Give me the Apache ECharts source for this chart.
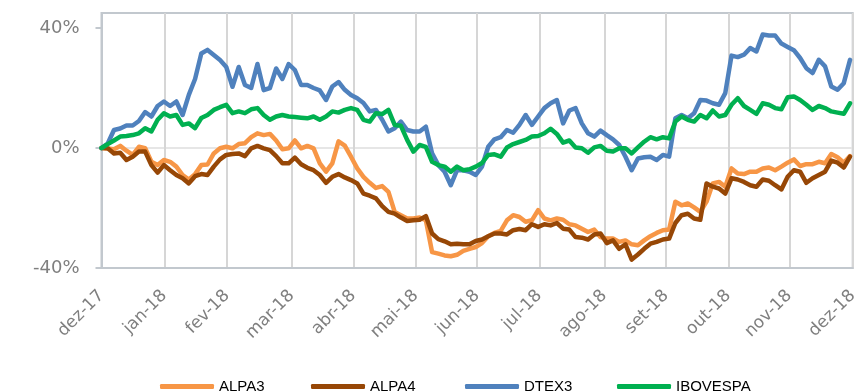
<!DOCTYPE html>
<html>
<head>
<meta charset="utf-8">
<script src="https://cdn.jsdelivr.net/npm/echarts@6/dist/echarts.min.js"></script>
<style>
  html, body { margin: 0; padding: 0; background: #ffffff; }
  #chart { width: 856px; height: 391px; }
</style>
</head>
<body>
<div id="chart"></div>
<script>
// Cumulative return (%) sampled at evenly spaced points, dez-17 .. dez-18
const seriesNames = ['ALPA3', 'ALPA4', 'DTEX3', 'IBOVESPA'];

const alpa3 = [
  0, -0.2, -0.4, 0.7, -0.9, -2.3, 0.4, -0.1, -4.6, -5.7,
  -4, -4.6, -6.2, -9, -10.5, -8.7, -5.7, -5.5, -1.8, -0.1,
  0.4, -0.1, 1.3, 1.6, 3.6, 4.9, 4.3, 4.7, 2.5, -0.4,
  -0.1, 2.5, -0.1, 0.7, -0.1, -5.1, -7.9, -5.1, 2.2, 0.8,
  -2.9, -6.8, -9.6, -11.6, -13.3, -12.7, -14.6, -21.3, -22.4, -23.5,
  -23.5, -23.2, -24.1, -34.7, -35.2, -35.8, -36.1, -35.6, -34.3, -33.6,
  -33, -31.7, -29.4, -28.3, -27.6, -24.1, -22.4, -23, -24.6, -24.1,
  -20.7, -23.5, -24.1, -23.5, -23.9, -25.4, -25.8, -26.9, -28, -27.2,
  -29.7, -30.2, -30.2, -31.3, -30.8, -32.1, -32.4, -30.8, -29.4, -28.3,
  -27.4, -27.2, -17.9, -19.1, -18.5, -19.8, -21.3, -17.9, -11.8, -11.3,
  -12.9, -6.8, -8.5, -8.7, -7.9, -7.9, -6.8, -6.5, -7.4, -6.2,
  -4.9, -3.8, -6, -5.4, -5.4, -4.6, -5.1, -2, -3.1, -4.9,
  -2.7
];

const alpa4 = [
  0, -0.1, -1.8, -1.6, -4, -2.9, -1.2, -1.2, -5.7, -8.2,
  -5.7, -7.4, -9, -10.1, -11.8, -9.4, -8.7, -9, -6.2, -3.8,
  -2.3, -2, -1.8, -2.7, -0.1, 0.7, -0.1, -0.7, -2.7, -5.1,
  -5.1, -3.2, -5.4, -6.6, -7.4, -9, -11.6, -9.6, -8.7, -9.8,
  -10.7, -11.8, -15.2, -15.9, -16.8, -19.4, -21.3, -21.9, -23.2, -24.3,
  -24.1, -23.9, -22.7, -28.5, -30.4, -31.1, -32.1, -31.9, -32.1, -32.1,
  -31, -30.5, -29.4, -28.5, -28.5, -28.8, -27.4, -27, -27.4, -25.4,
  -26.3, -25.4, -25.8, -25, -26.9, -27.2, -29.7, -29.9, -30.5, -28.8,
  -28.5, -31.7, -30.8, -33.6, -32.1, -37.2, -35.5, -33.6, -31.9, -31.3,
  -30.5, -30.2, -25, -22.4, -21.9, -23.5, -23.9, -11.8, -12.9, -13.5,
  -15.2, -10.1, -10.5, -11.3, -12.4, -12.9, -10.5, -10.9, -12.4, -13.8,
  -9.6, -7.4, -7.9, -11.6, -10.1, -9, -7.9, -4.2, -4.9, -6.5,
  -2.9
];

const dtex3 = [
  0, 1.5, 6, 6.5, 7.5, 7.5, 9, 12, 10.5, 14,
  15.5, 14, 15.5, 11, 17.7, 23, 31.5, 32.7, 31, 29.3,
  27, 20.4, 27, 21, 20, 28, 19.3, 20, 26.5, 23,
  28, 26, 21, 21, 20, 19.2, 16, 20.5, 22, 19.4,
  17.7, 16.6, 15, 12.2, 12.7, 9.4, 5.5, 6.6, 8.8, 6,
  5.5, 5.5, 7.1, -1.8, -5.7, -7.9, -12.4, -7.4, -7.4, -7.9,
  -9, -6.2, 0.4, 2.9, 3.6, 6, 5.1, 7.7, 11, 7.7,
  10.5, 13.3, 14.9, 16, 8.2, 12.5, 13.3, 8.2, 4.9, 3.8,
  5.8, 4.3, 2.9, 1, -2.9, -7.4, -3.5, -3.1, -2.9, -4,
  -2.3, -2.9, 9.9, 11, 9.9, 11.6, 16, 15.8, 14.9, 14.4,
  18.3, 30.8, 30.3, 31.1, 33.3, 32.2, 37.8, 37.5, 37.5, 34.8,
  33.7, 32.6, 30, 26.6, 25, 29.4, 27.2, 20.5, 19.4, 21.6,
  29.4
];

const ibovespa = [
  0, 1.3, 2.5, 3.8, 4, 4.3, 4.9, 6.6, 5.5, 9.4,
  11.6, 10.5, 11, 7.7, 8.2, 6.6, 10, 11, 12.7, 13.6,
  14.4, 11.6, 12.2, 11.6, 12.9, 13.3, 11, 9.4, 10.5, 11,
  10.5, 10.3, 10.1, 9.9, 10.5, 9.4, 10.5, 12.2, 11.8, 12.7,
  13.3, 12.7, 9.4, 8.8, 11.6, 11.3, 12.7, 7.7, 7.4, 2.7,
  -1.2, 1, 0.4, -4.6, -5.7, -6.2, -7.9, -6.2, -7.4, -7.1,
  -6.2, -5, -2.3, -2.1, -2.9, 0.2, 1.3, 2, 2.7, 3.8,
  4, 4.9, 6.4, 4.7, 1.8, 2.5, 0.2, -0.1, -1.6, 0.2,
  0.7, -0.9, -1.2, -0.1, -0.1, -1.8, 0.2, 2.1, 3.6, 2.9,
  3.6, 3.2, 8.8, 10.5, 9.4, 8.8, 11, 9.9, 12.5, 10.5,
  11, 14.4, 16.6, 14, 12.7, 11.4, 14.9, 14.4, 13.3, 12.9,
  16.9, 17.2, 16, 14.4, 12.7, 14, 13.3, 12.2, 11.8, 11.4,
  14.9
];

// Month labels and where each one falls along the sample index
const monthLabels = ['dez-17', 'jan-18', 'fev-18', 'mar-18', 'abr-18', 'mai-18', 'jun-18',
                     'jul-18', 'ago-18', 'set-18', 'out-18', 'nov-18', 'dez-18'];
const monthPos = [0, 10.07, 20.12, 30.49, 40.37, 50.37, 60.2,
                  70.19, 80.61, 90.5, 100.48, 110.26, 120.43];

const yTicks = [-40, 0, 40];

const colors = ['#F79646', '#974706', '#4F81BD', '#00B050'];
const seriesValues = [alpa3, alpa4, dtex3, ibovespa];
const legendLeft = [155, 306, 460, 612];

const axisGrey = '#C2C8CE';
const gridGrey = '#D6D6D6';
const zeroGrey = '#E6E6E6';
const labelFont = 'DejaVu Sans';

const chart = echarts.init(document.getElementById('chart'));

const lineSeries = seriesNames.map((name, k) => ({
  name: name,
  type: 'line',
  data: seriesValues[k].map((v, i) => [i, v]),
  showSymbol: false,
  lineStyle: { width: 4.5, color: colors[k], cap: 'round', join: 'round' },
  itemStyle: { color: colors[k] }
}));

chart.setOption({
  animation: false,
  color: colors,
  grid: {
    left: 101.5,
    right: 3.3,
    top: 13,
    bottom: 123,
    show: true,
    borderColor: axisGrey,
    borderWidth: 2,
    outerBoundsMode: 'none'
  },
  legend: seriesNames.map((name, k) => ({
    data: [name],
    left: legendLeft[k],
    top: 374,
    itemWidth: 54,
    itemHeight: 5,
    itemGap: 0,
    icon: 'roundRect',
    selectedMode: false,
    textStyle: { fontFamily: 'Liberation Sans', fontSize: 15, color: '#000000' }
  })),
  xAxis: {
    type: 'value',
    min: 0,
    max: monthPos[monthPos.length - 1],
    axisLine: { show: true, onZero: false, lineStyle: { color: axisGrey, width: 2 } },
    axisTick: { show: true, length: 0, customValues: monthPos, lineStyle: { color: axisGrey } },
    splitLine: { show: true, lineStyle: { color: gridGrey, width: 2, type: 'solid' } },
    axisLabel: {
      customValues: monthPos,
      rotate: 45,
      margin: 25,
      fontFamily: labelFont,
      fontSize: 17,
      color: '#7F7F7F',
      formatter: (v) => {
        const k = monthPos.indexOf(v);
        return k >= 0 ? monthLabels[k] : '';
      }
    }
  },
  yAxis: {
    type: 'value',
    min: -40,
    max: 45,
    interval: 40,
    axisLine: { show: true, lineStyle: { color: axisGrey, width: 2 } },
    axisTick: { show: true, length: 6, customValues: yTicks, lineStyle: { color: axisGrey, width: 2 } },
    splitLine: { show: true, showMinLine: false, showMaxLine: false, lineStyle: { color: zeroGrey, width: 2, type: 'solid' } },
    axisLabel: {
      customValues: yTicks,
      margin: 22,
      fontFamily: labelFont,
      fontSize: 18,
      color: '#7F7F7F',
      formatter: (v) => v + '%'
    }
  },
  series: lineSeries
});
</script>
</body>
</html>
